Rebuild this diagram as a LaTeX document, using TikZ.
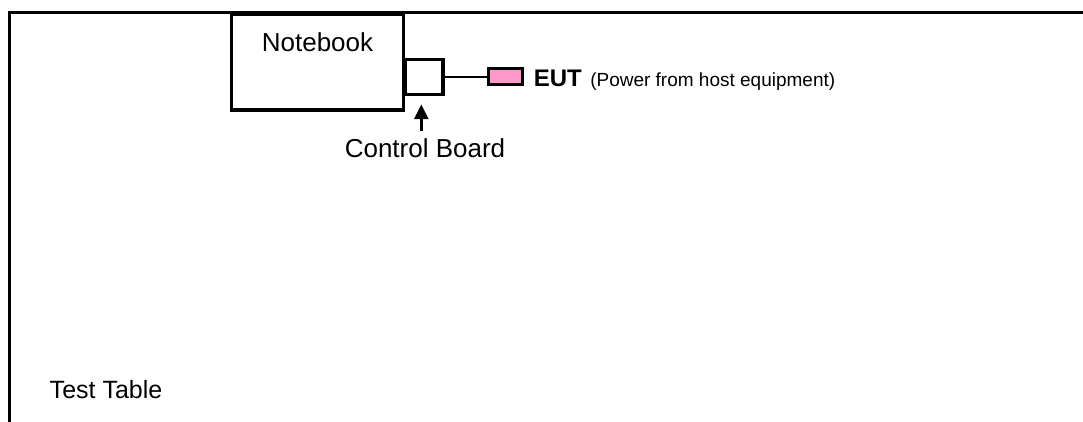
\documentclass[tikz,border=0pt]{standalone}
\usepackage{fontspec}
\setmainfont{Liberation Sans}
\usetikzlibrary{arrows.meta,positioning}
\definecolor{eutpink}{HTML}{FF99CC}
\tikzset{
  unit/.style={draw,inner sep=0pt},
  txt/.style={inner sep=0pt,font=\fontsize{#1}{#1}\selectfont},
}
\begin{document}
\begin{tikzpicture}[x=0.5pt,y=-0.5pt,line width=1.75pt,>={Triangle[width=7pt,length=7.5pt]}]
    \useasboundingbox (0,0) rectangle (1083,422);
    % test table edge
    \draw (9.3,422)--(9.3,12.5)--(1083,12.5);
    \node[unit,minimum width=86pt,minimum height=48pt] (notebook) at (317.5,62) {};
    \node[txt=13,anchor=base] (nbtext) at (317.5,52) {Notebook};
    \node[unit,minimum width=19pt,minimum height=17.5pt] (board) at (424,77) {};
    \node[unit,fill=eutpink,line width=1.5pt,minimum width=17.25pt,minimum height=8pt] (eut) at (505.3,77) {};
    \draw[line width=1.35pt] (board.east)--(eut.west);
    \node[txt=13,anchor=base] (boardtext) at (425,158) {Control Board};
    \draw[->,line width=1.35pt,shorten >=4pt] ([xshift=-1.85pt,yshift=3pt]boardtext.north)--([xshift=-1.35pt]board.south);
    \node[txt=12,anchor=base west] (euttext) at (532,86.7) {\textbf{EUT}};
    \node[txt=9.5,anchor=base west,xshift=2.5pt] (powertext) at (euttext.base east) {(Power from host equipment)};
    \node[txt=12.5,anchor=base west] (tabletext) at (48,399) {Test Table};
\end{tikzpicture}
\end{document}
